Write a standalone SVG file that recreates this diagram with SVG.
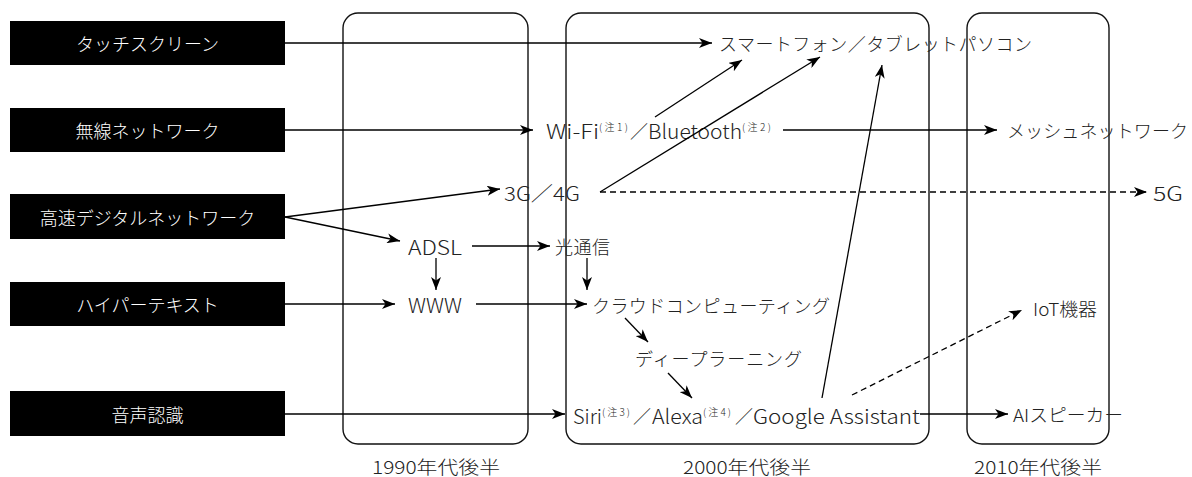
<svg xmlns="http://www.w3.org/2000/svg" width="1192" height="477" viewBox="0 0 1192 477">
  <style>
    text { font-family: "Noto Sans CJK JP", "Liberation Sans", sans-serif; font-size: 18px; font-weight: 300; fill: #222; dominant-baseline: central; }
    .src rect { fill: #000; }
    .src text { fill: #fff; text-anchor: middle; }
    .frame { fill: none; stroke: #111; stroke-width: 1.4; }
    .era { text-anchor: middle; }
    .lat { font-size: 20px; }
    .note { font-size: 10px; }
    #connectors path { fill: none; stroke: #000; stroke-width: 1.3; marker-end: url(#arr); }
    #connectors path.dash { stroke-dasharray: 6 4; }
  </style>
  <defs>
    <marker id="arr" markerUnits="userSpaceOnUse" markerWidth="14" markerHeight="10" refX="13" refY="5" orient="auto">
      <path d="M0,0 L13,5 L0,10 L3.5,5 z" fill="#000"/>
    </marker>
  </defs>
  <rect width="1192" height="477" fill="#fff"/>

  <!-- period frames -->
  <g id="era-1990">
    <rect class="frame" x="343" y="13" width="185" height="431" rx="15"/>
    <text class="era" x="436" y="466" textLength="128" lengthAdjust="spacingAndGlyphs">1990年代後半</text>
  </g>
  <g id="era-2000">
    <rect class="frame" x="566" y="13" width="363" height="431" rx="15"/>
    <text class="era" x="747" y="466" textLength="128" lengthAdjust="spacingAndGlyphs">2000年代後半</text>
  </g>
  <g id="era-2010">
    <rect class="frame" x="967" y="13" width="142" height="431" rx="15"/>
    <text class="era" x="1038" y="466" textLength="128" lengthAdjust="spacingAndGlyphs">2010年代後半</text>
  </g>

  <!-- source technologies -->
  <g id="touchscreen" class="src">
    <rect x="10" y="21" width="275" height="44"/>
    <text x="147.5" y="43">タッチスクリーン</text>
  </g>
  <g id="wireless" class="src">
    <rect x="10" y="108" width="275" height="44"/>
    <text x="147.5" y="130">無線ネットワーク</text>
  </g>
  <g id="digital-network" class="src">
    <rect x="10" y="194" width="275" height="45"/>
    <text x="147.5" y="216.5">高速デジタルネットワーク</text>
  </g>
  <g id="hypertext" class="src">
    <rect x="10" y="282" width="275" height="44"/>
    <text x="147.5" y="304">ハイパーテキスト</text>
  </g>
  <g id="speech" class="src">
    <rect x="10" y="391" width="275" height="45"/>
    <text x="147.5" y="413.5">音声認識</text>
  </g>

  <!-- derived technologies -->
  <g id="smartphone"><text x="719" y="43" textLength="313" lengthAdjust="spacing">スマートフォン／タブレットパソコン</text></g>
  <g id="wifi-bt">
    <text class="lat" x="546" y="130" textLength="53" lengthAdjust="spacingAndGlyphs">Wi-Fi</text>
    <text class="note" x="599" y="126" textLength="29" lengthAdjust="spacing">(注1)</text>
    <text x="630" y="130">／</text>
    <text class="lat" x="648" y="130" textLength="94" lengthAdjust="spacingAndGlyphs">Bluetooth</text>
    <text class="note" x="742" y="126" textLength="29" lengthAdjust="spacing">(注2)</text>
  </g>
  <g id="mesh"><text x="1007" y="130" textLength="181" lengthAdjust="spacing">メッシュネットワーク</text></g>
  <g id="g34"><text class="lat" x="504" y="192" textLength="76" lengthAdjust="spacingAndGlyphs">3G／4G</text></g>
  <g id="g5"><text class="lat" x="1153" y="192" textLength="30" lengthAdjust="spacingAndGlyphs">5G</text></g>
  <g id="adsl"><text class="lat" x="408" y="246" textLength="54" lengthAdjust="spacingAndGlyphs">ADSL</text></g>
  <g id="optical"><text x="555" y="246" textLength="55" lengthAdjust="spacing">光通信</text></g>
  <g id="www"><text class="lat" x="408" y="304" textLength="54" lengthAdjust="spacingAndGlyphs">WWW</text></g>
  <g id="cloud"><text x="592" y="305" textLength="238" lengthAdjust="spacing">クラウドコンピューティング</text></g>
  <g id="iot"><text x="1033" y="308" textLength="64" lengthAdjust="spacingAndGlyphs">IoT機器</text></g>
  <g id="deep"><text x="635" y="358" textLength="167" lengthAdjust="spacing">ディープラーニング</text></g>
  <g id="assistant">
    <text class="lat" x="573" y="415" textLength="29" lengthAdjust="spacingAndGlyphs">Siri</text>
    <text class="note" x="602" y="411" textLength="28" lengthAdjust="spacing">(注3)</text>
    <text x="633" y="415">／</text>
    <text class="lat" x="652" y="415" textLength="51" lengthAdjust="spacingAndGlyphs">Alexa</text>
    <text class="note" x="703" y="411" textLength="28" lengthAdjust="spacing">(注4)</text>
    <text x="735" y="415">／</text>
    <text class="lat" x="753" y="415" textLength="167" lengthAdjust="spacingAndGlyphs">Google Assistant</text>
  </g>
  <g id="ai-speaker"><text x="1013" y="414" textLength="110" lengthAdjust="spacingAndGlyphs">AIスピーカー</text></g>

  <!-- connectors -->
  <g id="connectors">
    <path d="M285,43 H712"/>
    <path d="M285,130 H533"/>
    <path d="M655,117 L742,60"/>
    <path d="M600,192 L820,57"/>
    <path d="M783,130 H997"/>
    <path d="M285,217 L500,189"/>
    <path d="M285,217 L400,241"/>
    <path class="dash" d="M600,192 H1147"/>
    <path d="M472,246 H550"/>
    <path d="M436,258 V290"/>
    <path d="M587,258 V290"/>
    <path d="M285,304 H395"/>
    <path d="M476,304 H587"/>
    <path d="M625,318 L648,342"/>
    <path d="M668,373 L692,398"/>
    <path d="M285,414 H565"/>
    <path d="M920,414 H1008"/>
    <path d="M822,398 L882,65"/>
    <path class="dash" d="M852,395 L1022,310"/>
  </g>
</svg>
